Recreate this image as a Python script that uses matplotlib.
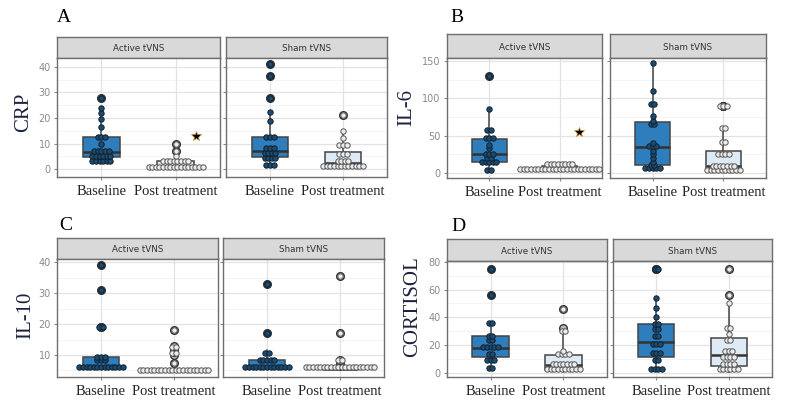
"""
Faceted box + dot plots of inflammatory markers, Active vs Sham tVNS
"""

import matplotlib.pyplot as plt
import numpy as np

# ---- data ----
groups = ["Baseline", "Post treatment"]
facets = ["Active tVNS", "Sham tVNS"]

crp_active_base = [2.5, 3, 3, 3, 4, 4, 4.5, 5, 5, 5.5, 6, 6, 6.5, 7, 7, 7.5, 8, 10, 12,
                   12.5, 13, 16.5, 19.5, 22, 24, 28]
crp_active_post = [1] * 16 + [3] * 8 + [5, 7, 10]
crp_sham_base = [1.5, 1.5, 2, 3.5, 4, 4.5, 5, 5.5, 6, 7, 7, 7.5, 8, 9, 12, 12, 13, 19,
                 22.5, 28, 36.5, 41]
crp_sham_post = [0.5] * 9 + [1, 1.5, 2, 2.5, 2.5, 3, 4, 5, 6, 6.5, 8.5, 8.5, 10, 12, 15, 21]

il6_active_base = [4, 4, 13, 14, 14, 15, 16, 18, 22, 24, 25, 28, 33, 38, 45, 46, 48, 57,
                   57, 86, 130]
il6_active_post = [4] * 14 + [7] * 9 + [11] * 4 + [14] * 4
il6_sham_base = [5, 5, 6, 7, 8, 10, 12, 15, 20, 25, 30, 35, 35, 38, 40, 65, 67, 70, 76,
                 92, 92, 110, 147]
il6_sham_post = [4] * 10 + [10] * 7 + [25] * 4 + [42, 42, 60, 60, 90, 90, 90]

il10_active_base = [5.5] * 10 + [6, 6.5, 7, 7.5, 8, 9, 9.5, 9.5, 9.5, 19, 19, 31, 39]
il10_active_post = [5] * 20 + [7.5, 10, 11, 12, 13, 18]
il10_sham_base = [5.5] * 10 + [6, 6.5, 7, 7.5, 8, 8, 8.5, 9, 10, 11.5, 17, 33]
il10_sham_post = [5.5] * 18 + [6.5, 7, 8, 8.5, 17, 35.5]

cort_active_base = [3, 4, 8, 9, 10, 12, 15, 17, 18, 18, 18, 20, 22, 25, 26, 27, 36, 36,
                    56, 75]
cort_active_post = [1, 1, 1, 1, 2, 2, 2, 2, 3, 4, 5, 6, 6, 6, 7, 8, 8, 12, 13, 13, 15,
                    16, 29, 32, 46]
cort_sham_base = [2, 2, 3, 4, 8, 10, 13, 14, 15, 20, 21, 22, 26, 27, 30, 33, 35, 36, 40,
                  47, 54, 75, 75]
cort_sham_post = [1, 2, 2, 3, 3, 4, 5, 6, 8, 8, 10, 12, 13, 13, 14, 15, 17, 22, 25, 28,
                  32, 32, 50, 56, 75]

W, H = 795, 413
fig = plt.figure(figsize=(W / 100, H / 100), dpi=100)

BASE_FILL = "#2e7dbd"
POST_FILL = "#deebf7"
BASE_DOT = "#1d4a6d"
POST_DOT = "#ececec"
FRAME = "#6e6e6e"
SERIF = "Liberation Serif"


def px_axes(x0, y0, x1, y1):
    """Add axes from pixel box (top-left origin)."""
    return fig.add_axes([x0 / W, 1 - y1 / H, (x1 - x0) / W, (y1 - y0) / H])


def dot_positions(vals, bw):
    """Greedy y-binning like a dotplot, returns (x offsets in dot units, y centers)."""
    vals = np.sort(np.asarray(vals, dtype=float))
    xs, ys = [], []
    i = 0
    while i < len(vals):
        j = i
        while j < len(vals) and vals[j] < vals[i] + bw:
            j += 1
        n = j - i
        yc = (vals[i] + vals[j - 1]) / 2
        offs = np.arange(n) - (n - 1) / 2
        xs.extend(offs)
        ys.extend([yc] * n)
        i = j
    return np.array(xs), np.array(ys)


def draw_facet(ax, base, post, ylim, yticks, show_y, bin_px, star_y=None):
    ax.set_xlim(0.4, 2.6)
    ax.set_ylim(*ylim)
    ax.set_facecolor("white")
    ax.set_axisbelow(True)

    # grid like theme_bw
    minor = [(a + b) / 2 for a, b in zip(yticks[:-1], yticks[1:])]
    step = yticks[1] - yticks[0]
    minor = [yticks[0] - step / 2] + minor + [yticks[-1] + step / 2]
    for m in minor:
        ax.axhline(m, color="#f2f2f2", lw=0.6, zorder=0)
    for t in yticks:
        ax.axhline(t, color="#e3e3e3", lw=0.9, zorder=0)
    for xv in (1, 2):
        ax.axvline(xv, color="#e3e3e3", lw=0.9, zorder=0)

    bp = ax.boxplot([base, post], positions=[1, 2], widths=0.5, patch_artist=True,
                    whis=1.5, showcaps=False, manage_ticks=False,
                    medianprops=dict(color="#333333", lw=1.8),
                    whiskerprops=dict(color="#444444", lw=1.1),
                    flierprops=dict(marker="o", markersize=5.5, markeredgecolor="#333333"))
    for patch, fc in zip(bp["boxes"], [BASE_FILL, POST_FILL]):
        patch.set_facecolor(fc)
        patch.set_edgecolor("#444444")
        patch.set_linewidth(1.1)
    for fl, fc in zip(bp["fliers"], [BASE_DOT, "#bdbdbd"]):
        fl.set_markerfacecolor(fc)

    # dot overlay
    bbox = ax.get_window_extent()
    px_per_x = bbox.width / (2.6 - 0.4)
    px_per_y = bbox.height / (ylim[1] - ylim[0])
    bw = bin_px / px_per_y
    spacing = 3.6 / px_per_x
    for pos, vals, fc, ec in [(1, base, BASE_DOT, "#0f2233"), (2, post, POST_DOT, "#555555")]:
        xo, yv = dot_positions(vals, bw)
        ax.scatter(pos + xo * spacing, yv, s=15, facecolor=fc, edgecolor=ec,
                   linewidth=0.7, zorder=5)

    if star_y is not None:
        ax.plot(2.27, star_y, marker="*", markersize=7, color="black",
                markeredgecolor="#c89030", markeredgewidth=0.5, zorder=6)

    ax.set_xticks([1, 2])
    ax.set_xticklabels(groups, fontfamily=SERIF, fontsize=10.5, color="#222222")
    ax.set_yticks(yticks)
    if show_y:
        ax.set_yticklabels([str(t) for t in yticks], fontsize=7, color="#8a8a8a")
    else:
        ax.set_yticklabels([])
        ax.tick_params(axis="y", length=0)
    ax.tick_params(axis="both", color="#8a8a8a", length=2.5, width=0.8, pad=2)
    ax.tick_params(axis="x", pad=3)
    for sp in ax.spines.values():
        sp.set_color(FRAME)
        sp.set_linewidth(1.0)


def draw_strip(x0, y0, x1, y1, label):
    sax = px_axes(x0, y0, x1, y1)
    sax.set_facecolor("#d9d9d9")
    sax.set_xticks([])
    sax.set_yticks([])
    for sp in sax.spines.values():
        sp.set_color(FRAME)
        sp.set_linewidth(1.0)
    sax.text(0.5, 0.45, label, ha="center", va="center", fontsize=6.3, color="#333333",
             transform=sax.transAxes)


panels = [
    # letter, letter pos, ylabel, ylabel pos, facet boxes, strip top, strip bottom,
    # plot bottom, data, ylim, ticks, star, dot bin (px)
    ("A", (64, 18), "CRP", (24, 112), [(57, 220), (226, 387)], 37, 58, 177,
     [(crp_active_base, crp_active_post), (crp_sham_base, crp_sham_post)],
     (-3.1, 43.5), [0, 10, 20, 30, 40], 13, 4.8),
    ("B", (457, 18), "IL-6", (407, 108), [(447, 602), (610, 766)], 34, 58, 178,
     [(il6_active_base, il6_active_post), (il6_sham_base, il6_sham_post)],
     (-6.7, 154), [0, 50, 100, 150], 55, 3.5),
    ("C", (66, 225), "IL-10", (26, 315), [(57, 218), (223, 384)], 238, 259, 377,
     [(il10_active_base, il10_active_post), (il10_sham_base, il10_sham_post)],
     (2.9, 41), [10, 20, 30, 40], None, 5.0),
    ("D", (458, 226), "CORTISOL", (413, 307), [(447, 607), (613, 772)], 239, 261, 377,
     [(cort_active_base, cort_active_post), (cort_sham_base, cort_sham_post)],
     (-2.9, 80.5), [0, 20, 40, 60, 80], None, 5.0),
]

for letter, lpos, ylab, ypos, boxes, st, sb, pb, data, ylim, ticks, star, bpx in panels:
    for k, ((x0, x1), (base, post)) in enumerate(zip(boxes, data)):
        draw_strip(x0, st, x1, sb, facets[k])
        ax = px_axes(x0, sb, x1, pb)
        draw_facet(ax, base, post, ylim, ticks, show_y=(k == 0), bin_px=bpx,
                   star_y=star if k == 0 else None)
    fig.text(lpos[0] / W, 1 - lpos[1] / H, letter, fontfamily=SERIF, fontsize=14,
             ha="center", va="center", color="black")
    fig.text(ypos[0] / W, 1 - ypos[1] / H, ylab, fontfamily=SERIF, fontsize=15,
             rotation=90, ha="center", va="center", color="#1c2340")

fig.savefig("out.png", dpi=100)
